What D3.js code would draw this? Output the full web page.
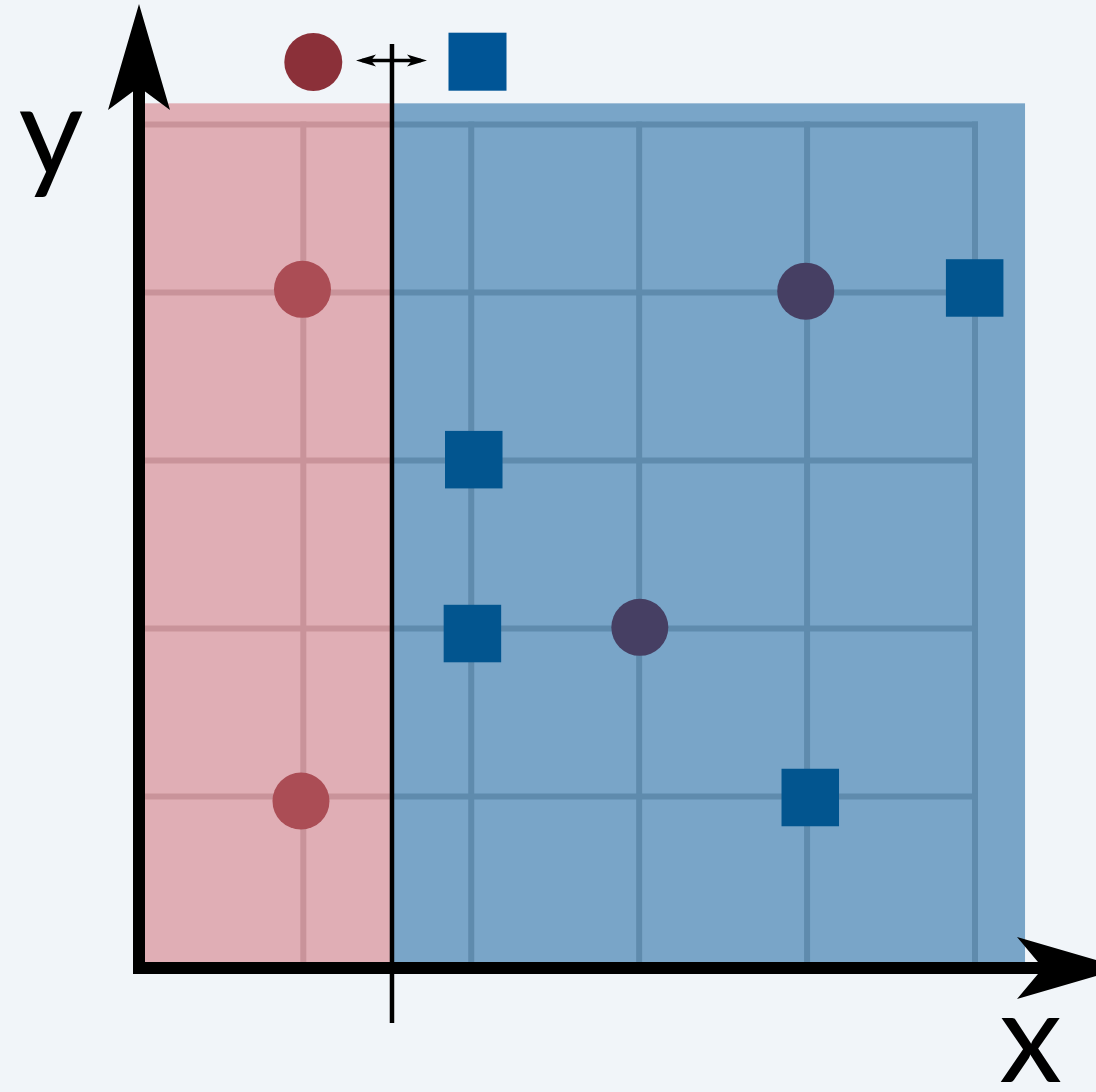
<!DOCTYPE html>
<html>
<head>
<meta charset="utf-8">
<script src="https://cdn.jsdelivr.net/npm/d3@7"></script>
<style>
  html, body { margin: 0; padding: 0; background: #f1f5f9; }
  svg { display: block; }
</style>
</head>
<body>
<svg id="chart" width="1096" height="1092"></svg>
<script>
// ---- data ----
const circleX = [0.995, 0.986, 3.992, 3.004];
const circleY = [4.019, 0.973, 4.008, 2.007];
const squareX = [4.998, 2.015, 2.007, 4.019];
const squareY = [4.027, 3.005, 1.970, 0.994];
const splitValue = 1.528;          // decision boundary on x
const gridTicks = [1, 2, 3, 4, 5];
const xLabel = "x";
const yLabel = "y";
const regionMaxX = 5.298;
const regionMaxY = 5.126;

// ---- layout ----
const W = 1096, H = 1092;
const x = d3.scaleLinear().domain([0, 5]).range([135.4, 975.0]);
const y = d3.scaleLinear().domain([0, 5]).range([964.5, 124.5]);

const colors = {
  bg: "#f1f5f9",
  redRegion: "#e0aeb5",
  blueRegion: "#79a5c8",
  redGrid: "#c9939a",
  blueGrid: "#5f8bad",
  redCircle: "#ab4d55",
  darkCircle: "#463f63",
  square: "#02558f",
  legendCircle: "#8b3039",
  legendSquare: "#005596"
};

const svg = d3.select("#chart");
svg.append("rect").attr("width", W).attr("height", H).attr("fill", colors.bg);

// regions
svg.append("rect")
  .attr("x", x(0)).attr("y", y(regionMaxY))
  .attr("width", x(splitValue) - x(0)).attr("height", y(0) - y(regionMaxY))
  .attr("fill", colors.redRegion);
svg.append("rect")
  .attr("x", x(splitValue)).attr("y", y(regionMaxY))
  .attr("width", x(regionMaxX) - x(splitValue)).attr("height", y(0) - y(regionMaxY))
  .attr("fill", colors.blueRegion);

// grid, clipped per region for color
const defs = svg.append("defs");
defs.append("clipPath").attr("id", "clipRed").append("rect")
  .attr("x", 0).attr("y", 0).attr("width", x(splitValue)).attr("height", H);
defs.append("clipPath").attr("id", "clipBlue").append("rect")
  .attr("x", x(splitValue)).attr("y", 0).attr("width", W).attr("height", H);

function drawGrid(clip, color) {
  const g = svg.append("g").attr("clip-path", `url(#${clip})`)
    .attr("stroke", color).attr("stroke-width", 6).attr("fill", "none");
  g.selectAll("line.v").data(gridTicks).join("line").attr("class", "v")
    .attr("x1", d => x(d)).attr("x2", d => x(d))
    .attr("y1", y(5) - 3).attr("y2", y(0));
  g.selectAll("line.h").data(gridTicks).join("line").attr("class", "h")
    .attr("y1", d => y(d)).attr("y2", d => y(d))
    .attr("x1", x(0)).attr("x2", x(5) + 3);
}
drawGrid("clipRed", colors.redGrid);
drawGrid("clipBlue", colors.blueGrid);

// points
const circles = circleX.map((v, i) => ({ x: v, y: circleY[i] }));
const squares = squareX.map((v, i) => ({ x: v, y: squareY[i] }));
const R = 28.5, S = 57.5;

svg.append("g").selectAll("circle").data(circles).join("circle")
  .attr("cx", d => x(d.x)).attr("cy", d => y(d.y)).attr("r", R)
  .attr("fill", d => d.x < splitValue ? colors.redCircle : colors.darkCircle);

svg.append("g").selectAll("rect").data(squares).join("rect")
  .attr("x", d => x(d.x) - S / 2).attr("y", d => y(d.y) - S / 2)
  .attr("width", S).attr("height", S)
  .attr("fill", colors.square);

// boundary line
const bx = x(splitValue);
svg.append("line")
  .attr("x1", bx).attr("x2", bx).attr("y1", 44).attr("y2", 1023)
  .attr("stroke", "#000").attr("stroke-width", 4.5);

// axes
const axisX = 139, axisY = 968;
svg.append("line").attr("x1", axisX).attr("x2", axisX).attr("y1", 60).attr("y2", axisY + 6)
  .attr("stroke", "#000").attr("stroke-width", 12);
svg.append("line").attr("x1", axisX - 6).attr("x2", 1060).attr("y1", axisY).attr("y2", axisY)
  .attr("stroke", "#000").attr("stroke-width", 12);

// arrowheads
svg.append("path")
  .attr("d", `M${axisX},4 L${axisX + 31},110 L${axisX},87 L${axisX - 31},110 Z`)
  .attr("fill", "#000");
svg.append("path")
  .attr("d", `M1123,${axisY} L1017,${axisY - 31} L1043,${axisY} L1017,${axisY + 31} Z`)
  .attr("fill", "#000");

// axis labels
svg.append("text").text(yLabel)
  .attr("x", 51).attr("y", 175)
  .attr("text-anchor", "middle")
  .attr("font-family", "Lato, 'DejaVu Sans', sans-serif").attr("font-size", 126).attr("fill", "#000");
svg.append("text").text(xLabel)
  .attr("x", 1030.5).attr("y", 1082)
  .attr("text-anchor", "middle")
  .attr("font-family", "Lato, 'DejaVu Sans', sans-serif").attr("font-size", 126).attr("fill", "#000");

// legend
svg.append("circle").attr("cx", 313.3).attr("cy", 62).attr("r", 29)
  .attr("fill", colors.legendCircle);
svg.append("rect").attr("x", 448.5).attr("y", 32.7).attr("width", 58).attr("height", 58)
  .attr("fill", colors.legendSquare);
const ay = 60.5;
svg.append("line").attr("x1", 362).attr("x2", 421).attr("y1", ay).attr("y2", ay)
  .attr("stroke", "#000").attr("stroke-width", 3.5);
svg.append("path")
  .attr("d", `M427,${ay} L407,${ay - 6} L412,${ay} L407,${ay + 6} Z`).attr("fill", "#000");
svg.append("path")
  .attr("d", `M356,${ay} L376,${ay - 6} L371,${ay} L376,${ay + 6} Z`).attr("fill", "#000");
</script>
</body>
</html>
